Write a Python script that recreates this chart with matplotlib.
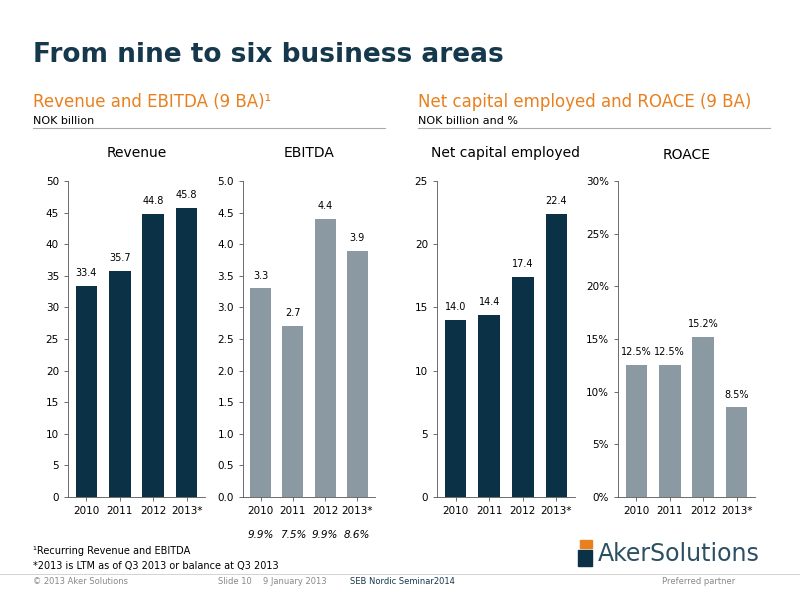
import matplotlib
matplotlib.use("Agg")
import matplotlib.pyplot as plt
from matplotlib.ticker import FuncFormatter

years = ["2010", "2011", "2012", "2013*"]
revenue = [33.4, 35.7, 44.8, 45.8]
ebitda = [3.3, 2.7, 4.4, 3.9]
ebitda_margin = ["9.9%", "7.5%", "9.9%", "8.6%"]
nce = [14.0, 14.4, 17.4, 22.4]
roace = [12.5, 12.5, 15.2, 8.5]

DARK = "#0b3147"
GRAY = "#8b99a3"
ORANGE = "#e8801f"
W, H = 800, 600

fig = plt.figure(figsize=(8, 6), dpi=100)
fig.patch.set_facecolor("white")

def fx(x): return x / W
def fy(y): return 1 - y / H

fig.text(fx(33), fy(55), "From nine to six business areas", fontsize=19, weight="bold", color="#15384c", va="center")
fig.text(fx(33), fy(102), "Revenue and EBITDA (9 BA)\u00b9", fontsize=12, color=ORANGE, va="center")
fig.text(fx(33), fy(121), "NOK billion", fontsize=8, color="black", va="center")
fig.text(fx(418), fy(102), "Net capital employed and ROACE (9 BA)", fontsize=12, color=ORANGE, va="center")
fig.text(fx(418), fy(121), "NOK billion and %", fontsize=8, color="black", va="center")
fig.add_artist(plt.Line2D([fx(33), fx(385)], [fy(128), fy(128)], color="#aaaaaa", lw=0.8))
fig.add_artist(plt.Line2D([fx(418), fx(770)], [fy(128), fy(128)], color="#aaaaaa", lw=0.8))

def panel(x0, x1, title, ty, vals, color, ymax, step, fmt, lblfmt):
    ax = fig.add_axes([fx(x0), fy(497), fx(x1) - fx(x0), fy(181) - fy(497)])
    ax.bar(range(4), vals, width=0.65, color=color)
    ax.set_xlim(-0.55, 3.55)
    ax.set_ylim(0, ymax)
    ticks = [i * step for i in range(int(round(ymax / step)) + 1)]
    ax.set_yticks(ticks)
    ax.yaxis.set_major_formatter(FuncFormatter(fmt))
    ax.set_xticks(range(4))
    ax.set_xticklabels(years)
    ax.tick_params(labelsize=7.5, length=3, width=0.6, color="#555555")
    for s in ["top", "right"]:
        ax.spines[s].set_visible(False)
    for s in ["left", "bottom"]:
        ax.spines[s].set_linewidth(0.6); ax.spines[s].set_color("#555555")
    for i, v in enumerate(vals):
        ax.text(i, v + ymax * 0.025, lblfmt(v), ha="center", va="bottom", fontsize=7)
    fig.text(fx((x0 + x1) / 2), fy(ty), title, ha="center", va="center", fontsize=10)
    return ax

panel(68, 205, "Revenue", 153, revenue, DARK, 50, 5, lambda v, p: f"{v:.0f}", lambda v: f"{v:.1f}")
panel(243, 375, "EBITDA", 153, ebitda, GRAY, 5, 0.5, lambda v, p: f"{v:.1f}", lambda v: f"{v:.1f}")
panel(437, 575, "Net capital employed", 153, nce, DARK, 25, 5, lambda v, p: f"{v:.0f}", lambda v: f"{v:.1f}")
panel(618, 755, "ROACE", 155, roace, GRAY, 30, 5, lambda v, p: f"{v:.0f}%", lambda v: f"{v:.1f}%")

for i, m in enumerate(ebitda_margin):
    xc = 243 + (375 - 243) * (i + 0.55) / 4.1
    fig.text(fx(xc), fy(535), m, ha="center", va="center", fontsize=7.5, style="italic")

fig.text(fx(33), fy(551), "\u00b9Recurring Revenue and EBITDA", fontsize=7, va="center")
fig.text(fx(33), fy(566), "*2013 is LTM as of Q3 2013 or balance at Q3 2013", fontsize=7, va="center")
fig.add_artist(plt.Line2D([0, 1], [fy(574), fy(574)], color="#cccccc", lw=0.6))
fig.text(fx(33), fy(581), "\u00a9 2013 Aker Solutions", fontsize=6, color="#888888", va="center")
fig.text(fx(218), fy(581), "Slide 10", fontsize=6, color="#888888", va="center")
fig.text(fx(263), fy(581), "9 January 2013", fontsize=6, color="#888888", va="center")
fig.text(fx(350), fy(581), "SEB Nordic Seminar2014", fontsize=6, color="#15384c", va="center")
fig.text(fx(662), fy(581), "Preferred partner", fontsize=6, color="#888888", va="center")

fig.add_artist(plt.Rectangle((fx(578), fy(566)), fx(14), fy(550) - fy(566), color=DARK, transform=fig.transFigure))
fig.add_artist(plt.Rectangle((fx(580), fy(548)), fx(12), fy(540) - fy(548), color=ORANGE, transform=fig.transFigure))
fig.text(fx(598), fy(554), "AkerSolutions", fontsize=17, color="#2b5063", va="center")

fig.savefig("out.png", dpi=100)
